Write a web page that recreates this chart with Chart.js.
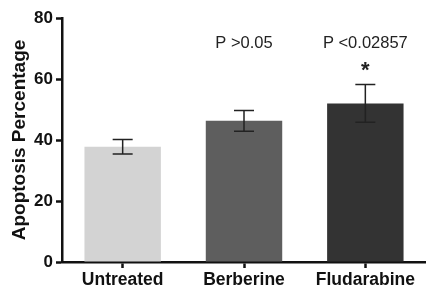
<!DOCTYPE html>
<html>
<head>
<meta charset="utf-8">
<script src="https://cdn.jsdelivr.net/npm/chart.js@4/dist/chart.umd.min.js"></script>
<style>
  html, body { margin: 0; padding: 0; background: #fff; }
  #wrap { width: 426px; height: 290px; }
</style>
</head>
<body>
<div id="wrap"><canvas id="grafico"></canvas></div>
<script>
// datos
const grupos = ['Untreated', 'Berberine', 'Fludarabine'];
const medias = [37.8, 46.3, 52.0];
const errores = [2.4, 3.4, 6.2];
const etiquetasP = ['', 'P >0.05', 'P <0.02857'];
const marcas = ['', '', '*'];
const ticksY = [0, 20, 40, 60, 80];

const coloresBarra = ['#d3d3d3', '#5e5e5e', '#333333'];
const negro = '#111111';

// barras de error + textos de significancia
const extras = {
    id: 'extras',
    afterDatasetsDraw(chart) {
        const ctx = chart.ctx;
        const y = chart.scales.y;
        const meta = chart.getDatasetMeta(0);
        ctx.save();
        meta.data.forEach((bar, i) => {
            const x = bar.x;
            const yTop = y.getPixelForValue(medias[i] + errores[i]);
            const yBot = y.getPixelForValue(medias[i] - errores[i]);
            ctx.strokeStyle = '#222';
            ctx.lineWidth = 1.5;
            ctx.beginPath();
            ctx.moveTo(x, yTop); ctx.lineTo(x, yBot);
            ctx.moveTo(x - 10, yTop); ctx.lineTo(x + 10, yTop);
            ctx.moveTo(x - 10, yBot); ctx.lineTo(x + 10, yBot);
            ctx.stroke();

            ctx.fillStyle = '#222';
            ctx.textAlign = 'center';
            ctx.textBaseline = 'middle';
            if (etiquetasP[i]) {
                ctx.font = '16.5px "Liberation Sans", Arial, sans-serif';
                ctx.fillText(etiquetasP[i], x, y.getPixelForValue(71.5));
            }
            if (marcas[i]) {
                ctx.font = 'bold 22px "Liberation Sans", Arial, sans-serif';
                ctx.fillText(marcas[i], x, y.getPixelForValue(62.5));
            }
        });
        ctx.restore();
    }
};

const ctxG = document.getElementById('grafico').getContext('2d');
new Chart(ctxG, {
    type: 'bar',
    data: {
        labels: grupos,
        datasets: [{
            data: medias,
            backgroundColor: coloresBarra,
            borderWidth: 0,
            barPercentage: 0.63,
            categoryPercentage: 1
        }]
    },
    options: {
        responsive: true,
        maintainAspectRatio: false,
        animation: false,
        layout: { padding: { top: 18, right: 0, left: 0, bottom: 0 } },
        plugins: {
            legend: { display: false },
            tooltip: { enabled: false }
        },
        scales: {
            x: {
                afterFit: (s) => { s.height = 28; },
                grid: {
                    offset: false,
                    drawOnChartArea: false,
                    drawTicks: true,
                    tickLength: 6,
                    tickWidth: 2.5,
                    tickColor: negro
                },
                border: { display: true, color: negro, width: 2.5 },
                ticks: {
                    color: negro,
                    padding: 2,
                    font: { family: '"Liberation Sans", Arial, sans-serif', size: 17.5, weight: 'bold' }
                }
            },
            y: {
                min: 0,
                max: 80,
                afterFit: (s) => { s.width = 62; },
                afterBuildTicks: (s) => { s.ticks = ticksY.map(v => ({ value: v })); },
                title: {
                    display: true,
                    text: 'Apoptosis Percentage',
                    color: negro,
                    padding: { top: 8, bottom: 0 },
                    font: { family: '"Liberation Sans", Arial, sans-serif', size: 19, weight: 'bold' }
                },
                grid: {
                    drawOnChartArea: false,
                    drawTicks: true,
                    tickLength: 6,
                    tickWidth: 2.5,
                    tickColor: negro
                },
                border: { display: true, color: negro, width: 2.5 },
                ticks: {
                    color: negro,
                    padding: 3,
                    font: { family: '"Liberation Sans", Arial, sans-serif', size: 17, weight: 'bold' }
                }
            }
        }
    },
    plugins: [extras]
});
</script>
</body>
</html>
